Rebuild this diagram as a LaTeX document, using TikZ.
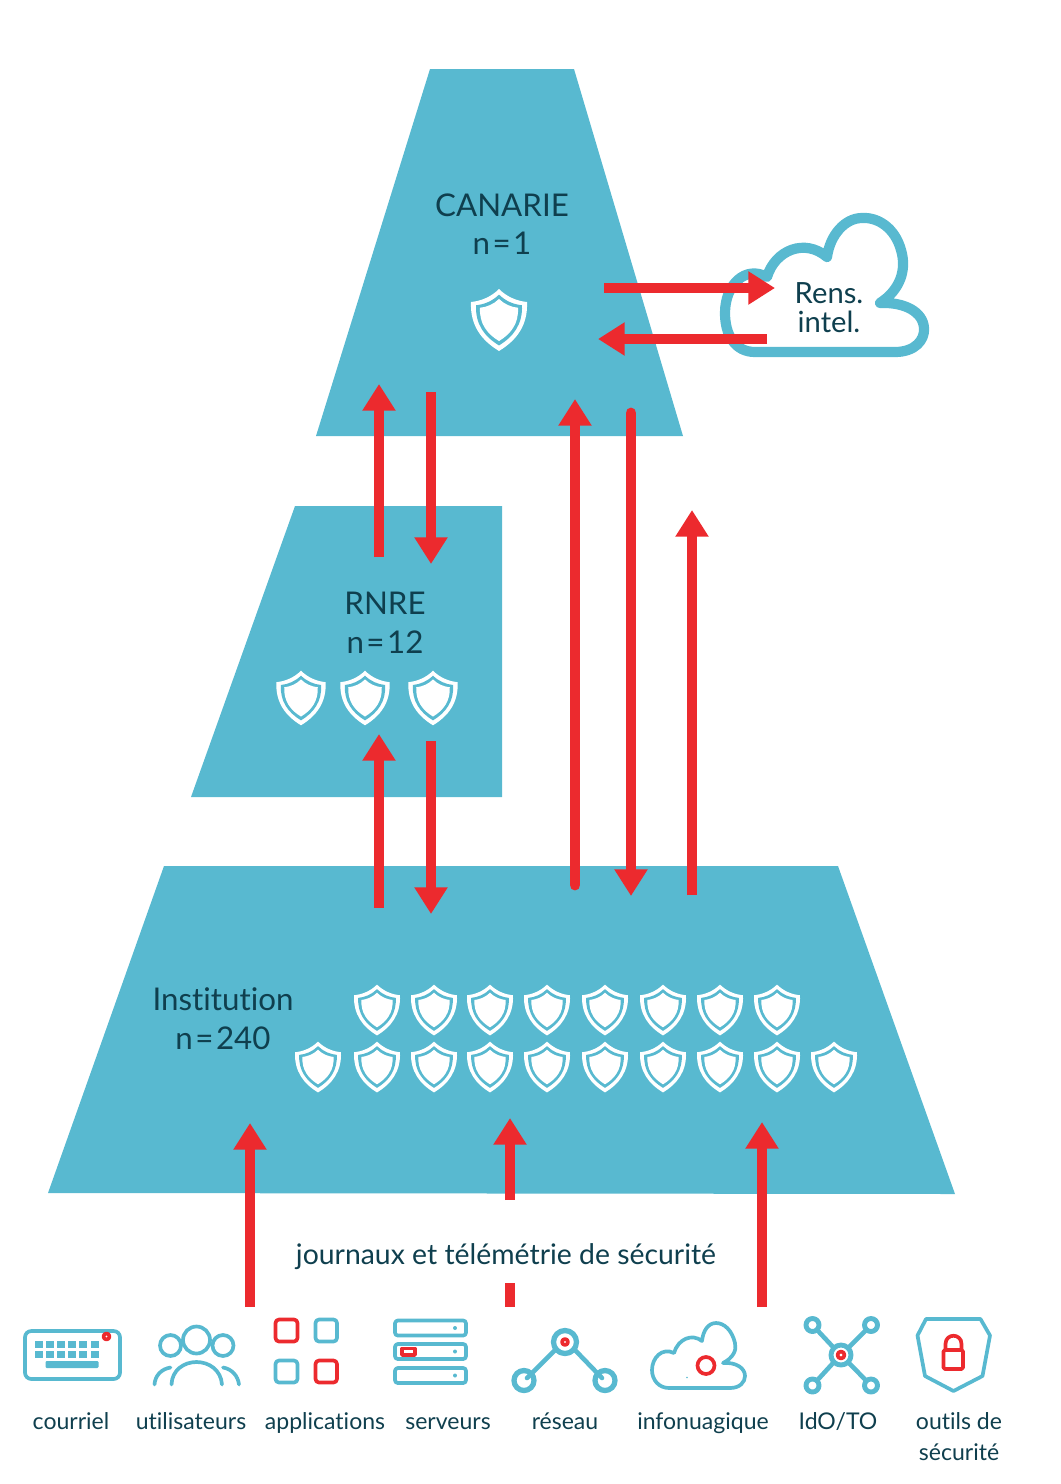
\documentclass[tikz,border=0pt]{standalone}
\usepackage{fontspec}
\setmainfont{Lato}[Ligatures=NoCommon]
\usetikzlibrary{arrows.meta,calc}

\definecolor{tealfill}{HTML}{58B9D0}
\definecolor{inkdark}{HTML}{0F3F4E}
\definecolor{redline}{HTML}{EC2A2E}

\newcommand{\shieldpath}{(0,-31) .. controls (-8,-23) and (-18,-19) .. (-28,-18) .. controls (-29,5) and (-18,20) .. (0,31) .. controls (18,20) and (29,5) .. (28,-18) .. controls (18,-19) and (8,-23) .. (0,-31) -- cycle}
\newcommand{\tightspaces}{\spaceskip=.08em\relax}

\tikzset{
	level/.style={fill=tealfill, draw=none},
	title/.style={text=inkdark, font=\fontsize{8.9}{11}\selectfont, align=center, execute at begin node=\tightspaces},
	caption/.style={text=inkdark, font=\fontsize{6.55}{8.8}\selectfont, align=center},
	link/.style={draw=redline, line width=3.1pt, -{Triangle[length=7.6pt,width=9pt]}},
	linkplain/.style={draw=redline, line width=3.1pt},
	icon/.style={draw=tealfill, line width=1.05pt, line cap=round, line join=round},
	iconred/.style={draw=redline, line width=1.05pt, line cap=round, line join=round},
	shield/.pic={
		\fill[white] \shieldpath;
		\fill[tealfill, scale=.82] \shieldpath;
		\fill[white, scale=.68] \shieldpath;
	}
}

\begin{document}
\begin{tikzpicture}[x=0.01cm,y=-0.01cm]
	\useasboundingbox (0,0) rectangle (1060,1484);

	% Levels
	\fill[level] (430,69) -- (574,69) -- (683,436) -- (316,436) -- cycle;
	\fill[level] (295,506) -- (502,506) -- (502,797) -- (191,797) -- cycle;
	\fill[level] (164,866) -- (838,866) -- (955,1194) -- (48,1193) -- cycle;

	\node[title] (canarie) at (502,224) {CANARIE\\n = 1};
	\node[title] (rnre) at (385,623) {RNRE\\n = 12};
	\node[title] (institution) at (223,1019) {Institution\\n = 240};
	\node[text=inkdark, font=\fontsize{8.07}{10}\selectfont] (journaux) at (506,1257) {journaux et télémétrie de sécurité};

	% Shields
	\pic at (499,320) {shield};
	\foreach \x in {301, 365, 433}
		\pic[scale=.88] at (\x,698) {shield};
	\foreach \x in {377, 434, 490, 547, 605, 663, 720, 777}
		\pic[scale=.82] at (\x,1010) {shield};
	\foreach \x in {318, 377, 434, 490, 547, 605, 663, 720, 777, 834}
		\pic[scale=.82] at (\x,1067) {shield};

	% Cloud
	\draw[draw=tealfill, line width=2.9pt, line join=round] (755,352) -- (895,352) .. controls (915,352) and (925,340) .. (924,328) .. controls (923,312) and (905,302) .. (880,303) .. controls (900,290) and (907,270) .. (901,250) .. controls (895,228) and (878,217) .. (862,218) .. controls (845,218) and (830,235) .. (827,257) .. controls (805,238) and (775,250) .. (767,277) .. controls (745,265) and (725,285) .. (725,313) .. controls (725,335) and (735,352) .. (755,352) -- cycle;
	\node[title, font=\fontsize{8.3}{8.2}\selectfont] (rens) at (829,308) {Rens.\\intel.};

	% Arrow ends
	\coordinate (can_a) at (379,384);
	\coordinate (can_b) at (431,392);
	\coordinate (rnre_a) at (379,557);
	\coordinate (rnre_b) at (431,564);
	\coordinate (rnre_c) at (379,734);
	\coordinate (rnre_d) at (431,741);
	\coordinate (inst_a) at (379,908);
	\coordinate (inst_b) at (431,914);
	\coordinate (can_c) at (575,399);
	\coordinate (inst_c) at (575,885);
	\coordinate (can_d) at (631,413);
	\coordinate (inst_d) at (631,896);
	\coordinate (inst_e) at (692,895);
	\coordinate (free_e) at (692,510);
	\coordinate (out_a) at (604,288);
	\coordinate (cloud_a) at (775,288);
	\coordinate (cloud_b) at (767,339);
	\coordinate (out_b) at (598,339);

	\draw[link] (rnre_a) -- (can_a);
	\draw[link] (can_b) -- (rnre_b);
	\draw[link] (inst_a) -- (rnre_c);
	\draw[link] (rnre_d) -- (inst_b);
	\draw[link, line cap=round] (inst_c) -- (can_c);
	\draw[link, line cap=round] (can_d) -- (inst_d);
	\draw[link] (inst_e) -- (free_e);
	\draw[link] (out_a) -- (cloud_a);
	\draw[link] (cloud_b) -- (out_b);

	% Arrows from the sources
	\coordinate (src_a) at (250,1307);
	\coordinate (inst_f) at (250,1123);
	\coordinate (src_b) at (510,1200);
	\coordinate (inst_g) at (510,1118);
	\coordinate (src_c) at (510,1283);
	\coordinate (src_d) at (510,1307);
	\coordinate (src_e) at (762,1307);
	\coordinate (inst_h) at (762,1122);

	\draw[link] (src_a) -- (inst_f);
	\draw[link] (src_b) -- (inst_g);
	\draw[linkplain] (src_c) -- (src_d);
	\draw[link] (src_e) -- (inst_h);

	% Keyboard
	\draw[icon, rounded corners=1.8pt] (25,1331) rectangle (120,1379);
	\foreach \k in {0,...,5} {
		\fill[tealfill] (34.5+\k*11.2,1341) rectangle ++(8,7);
		\fill[tealfill] (34.5+\k*11.2,1351) rectangle ++(8,7);
	}
	\fill[tealfill, rounded corners=.3pt] (45.5,1361) rectangle (98.5,1368);
	\draw[iconred, fill=white] (106.5,1336.5) circle (3);

	% Users
	\draw[icon] (196.5,1340) circle (13.5);
	\draw[icon] (170.5,1345.5) circle (10.5);
	\draw[icon] (223,1345.5) circle (10.5);
	\draw[icon] (171.5,1384.5) .. controls (172,1370) and (184,1362) .. (196.5,1362) .. controls (209,1362) and (221,1370) .. (222,1384.5);
	\draw[icon] (154.5,1384.5) .. controls (155,1376) and (161,1369) .. (170.5,1367.5);
	\draw[icon] (239,1384.5) .. controls (238,1376) and (232,1369) .. (223,1367.5);

	% Applications
	\draw[iconred, rounded corners=1pt] (275.5,1319.5) rectangle (297.5,1341.5);
	\draw[icon, rounded corners=1pt] (315.5,1319.5) rectangle (337,1341.5);
	\draw[icon, rounded corners=1pt] (275.5,1360.5) rectangle (297.5,1382.5);
	\draw[iconred, rounded corners=1pt] (315.5,1360.5) rectangle (337,1382.5);

	% Servers
	\foreach \y in {1320.5, 1344, 1368} {
		\draw[icon, rounded corners=.8pt] (395,\y) rectangle (466,\y+15);
		\fill[tealfill] (455,\y+7.5) circle (2);
	}
	\draw[iconred] (402,1348.5) rectangle (415,1355);

	% Network
	\draw[icon, line width=1.5pt] (565,1342) circle (11.5);
	\draw[iconred] (565,1342) circle (3);
	\draw[icon, line width=1.5pt] (524,1380.5) circle (10);
	\draw[icon, line width=1.5pt] (605,1380.5) circle (10);
	\draw[icon, line width=1.3pt] (556,1349) -- (527,1378);
	\draw[icon, line width=1.3pt] (574,1349) -- (602,1378);

	% Cloud computing
	\draw[icon] (669,1388) -- (730,1388) .. controls (740,1388) and (745,1382) .. (745,1376) .. controls (745,1368) and (736,1362) .. (723,1363) .. controls (733,1358) and (737,1350) .. (735,1343) .. controls (732,1330) and (724,1323) .. (716,1323) .. controls (708,1323) and (703,1331) .. (702,1341) .. controls (692,1333) and (678,1339) .. (674,1353) .. controls (662,1347) and (652,1358) .. (652,1370) .. controls (652,1380) and (659,1388) .. (669,1388) -- cycle;
	\draw[iconred] (706,1365.5) circle (8.5);
	\fill[tealfill] (687,1377.5) circle (.8);

	% IoT
	\draw[icon, line width=1.4pt] (841,1355) circle (10);
	\draw[iconred] (841,1355) circle (3.5);
	\foreach \x/\y/\a/\b in {812.5/1325/834/1348, 871/1325/848/1348, 812.5/1385.5/834/1362, 871/1385.5/848/1362} {
		\draw[icon, line width=1.4pt] (\x,\y) circle (6.5);
		\draw[icon, line width=1.3pt] (\a,\b) -- ($(\x,\y)!.2!(\a,\b)$);
	}

	% Security tools
	\draw[icon, line cap=butt] (926,1319) -- (980.5,1319) -- (990,1335.5) -- (982.5,1376) -- (953.5,1391) -- (925,1376) -- (917.5,1335.5) -- cycle;
	\draw[iconred, rounded corners=.4pt] (943.5,1350) rectangle (963,1369);
	\draw[iconred] (945.5,1350) -- (945.5,1344) .. controls (945.5,1333) and (961.5,1333) .. (961.5,1344) -- (961.5,1350);

	% Captions
	\foreach \x/\name/\txt in {71/courriel/courriel, 191/users/utilisateurs, 325/apps/applications, 448/servers/serveurs, 565/net/réseau, 703/cloud/infonuagique, 838/iot/{IdO/TO}}
		\node[caption, anchor=base] (cap_\name) at (\x,1429) {\txt};
	\node[caption] (cap_tools) at (959,1437) {outils de\\sécurité};
\end{tikzpicture}
\end{document}
